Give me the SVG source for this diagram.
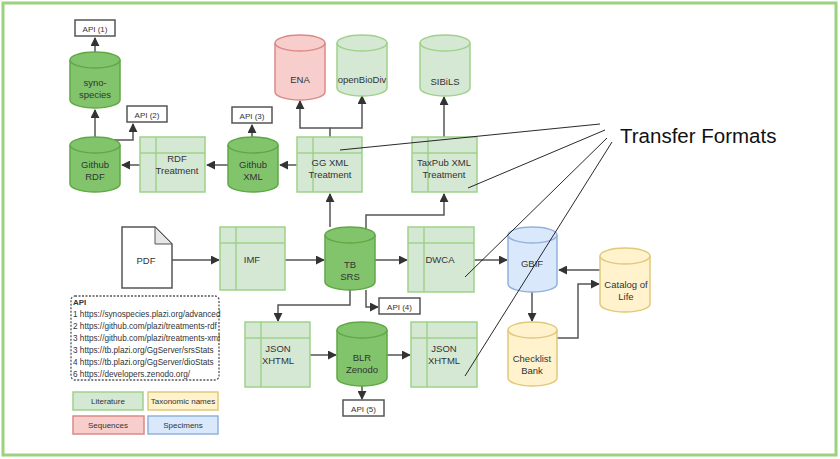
<svg xmlns="http://www.w3.org/2000/svg" width="840" height="459" viewBox="0 0 840 459">
<defs>
<marker id="ah" viewBox="0 0 10 10" refX="9" refY="5" markerWidth="6" markerHeight="6" orient="auto"><path d="M0,0 L10,5 L0,10 z" fill="#333"/></marker>
<style>
text{font-family:"Liberation Sans",Arial,sans-serif;font-size:9.5px;fill:#333;text-anchor:middle}
.dg{fill:#82c46c;stroke:#5fa845;stroke-width:1.5}
.lg{fill:#d5e8d4;stroke:#9fd18a;stroke-width:1.5}
.rd{fill:#f8cecc;stroke:#d98a88;stroke-width:1.5}
.bl{fill:#dae8fc;stroke:#93b1dc;stroke-width:1.5}
.yl{fill:#fff2cc;stroke:#e1c979;stroke-width:1.5}
.api{fill:#fff;stroke:#555;stroke-width:1.5}
.c path{fill:none;stroke:#555;stroke-width:1.5;marker-end:url(#ah)}
.tf{stroke:#111;stroke-width:0.9;fill:none}
</style>
</defs>
<rect x="3" y="3" width="833" height="452" fill="#fff" stroke="#9bd27f" stroke-width="3"/>

<g class="c" id="connectors">
<path d="M95,52 V38"/>
<path d="M95,137 V110"/>
<path d="M113,140 H133 V124"/>
<path d="M140,165 H122"/>
<path d="M228,165 H207"/>
<path d="M252,137 V125"/>
<path d="M297,165 H280"/>
<path d="M330,137 V128 H300 V101"/>
<path d="M330,128 H362 V96"/>
<path d="M444,137 V97"/>
<path d="M330,227 V194"/>
<path d="M366,230 V215 H444 V194"/>
<path d="M172,260 H219"/>
<path d="M285,260 H324"/>
<path d="M375,260 H407"/>
<path d="M474,260 H507"/>
<path d="M600,270 H559"/>
<path d="M532,292 V321"/>
<path d="M557,338 H578 V284 H599"/>
<path d="M366,290 V307 H378"/>
<path d="M350,290 V305 H278 V321"/>
<path d="M310,355 H336"/>
<path d="M387,355 H410"/>
<path d="M362,386 V399"/>
</g>

<g id="api1"><rect class="api" x="75" y="20" width="40" height="16"/><text x="95" y="31.5" style="font-size:8px">API (1)</text></g>
<g id="synospecies"><path class="dg" d="M70,60 A25,8 0 0 1 120,60 V100 A25,8 0 0 1 70,100 Z"/><path class="dg" d="M70,60 A25,8 0 0 0 120,60" fill="none"/><text x="95" y="86">syno-</text><text x="95" y="98">species</text></g>
<g id="api2"><rect class="api" x="127" y="106" width="40" height="16"/><text x="147" y="117.5" style="font-size:8px">API (2)</text></g>
<g id="githubrdf"><path class="dg" d="M70,145 A25,8 0 0 1 120,145 V184 A25,8 0 0 1 70,184 Z"/><path class="dg" d="M70,145 A25,8 0 0 0 120,145" fill="none"/><text x="95" y="168">Github</text><text x="95" y="180">RDF</text></g>
<g id="rdftreatment"><rect class="lg" x="140" y="137" width="65" height="55"/><path class="lg" d="M156,137 V192 M140,153 H205"/><text x="177" y="162">RDF</text><text x="177" y="174">Treatment</text></g>
<g id="api3"><rect class="api" x="232" y="107" width="40" height="16"/><text x="252" y="118.5" style="font-size:8px">API (3)</text></g>
<g id="githubxml"><path class="dg" d="M228,145 A25,8 0 0 1 278,145 V184 A25,8 0 0 1 228,184 Z"/><path class="dg" d="M228,145 A25,8 0 0 0 278,145" fill="none"/><text x="253" y="168">Github</text><text x="253" y="180">XML</text></g>
<g id="ggxml"><rect class="lg" x="297" y="137" width="65" height="55"/><path class="lg" d="M313,137 V192 M297,153 H362"/><text x="330" y="166">GG XML</text><text x="330" y="178">Treatment</text></g>
<g id="ena"><path class="rd" d="M275,43 A25,8 0 0 1 325,43 V92 A25,8 0 0 1 275,92 Z"/><path class="rd" d="M275,43 A25,8 0 0 0 325,43" fill="none"/><text x="300" y="83">ENA</text></g>
<g id="openbiodiv"><path class="lg" d="M337,43 A25,8 0 0 1 387,43 V88 A25,8 0 0 1 337,88 Z"/><path class="lg" d="M337,43 A25,8 0 0 0 387,43" fill="none"/><text x="362" y="83">openBioDiv</text></g>
<g id="sibils"><path class="lg" d="M420,43 A25,8 0 0 1 470,43 V88 A25,8 0 0 1 420,88 Z"/><path class="lg" d="M420,43 A25,8 0 0 0 470,43" fill="none"/><text x="445" y="85">SIBiLS</text></g>
<g id="taxpub"><rect class="lg" x="412" y="137" width="65" height="55"/><path class="lg" d="M428,137 V192 M412,153 H477"/><text x="444" y="166">TaxPub XML</text><text x="444" y="178">Treatment</text></g>
<g id="pdf"><path d="M122,227 H155 L172,244 V288 H122 Z" fill="#fff" stroke="#555" stroke-width="1.5"/><path d="M155,227 V244 H172 Z" fill="#e6e6e6" stroke="#555" stroke-width="1"/><text x="146" y="264">PDF</text></g>
<g id="imf"><rect class="lg" x="220" y="227" width="65" height="63"/><path class="lg" d="M236,227 V290 M220,243 H285"/><text x="252" y="263">IMF</text></g>
<g id="tbsrs"><path class="dg" d="M325,235 A25,8 0 0 1 375,235 V282 A25,8 0 0 1 325,282 Z"/><path class="dg" d="M325,235 A25,8 0 0 0 375,235" fill="none"/><text x="350" y="268">TB</text><text x="350" y="280">SRS</text></g>
<g id="dwca"><rect class="lg" x="408" y="227" width="66" height="65"/><path class="lg" d="M424,227 V292 M408,243 H474"/><text x="440" y="263">DWCA</text></g>
<g id="gbif"><path class="bl" d="M508,235 A24.5,8 0 0 1 557,235 V284 A24.5,8 0 0 1 508,284 Z"/><path class="bl" d="M508,235 A24.5,8 0 0 0 557,235" fill="none"/><text x="532" y="267">GBIF</text></g>
<g id="catalog"><path class="yl" d="M600,256 A25,8 0 0 1 650,256 V304 A25,8 0 0 1 600,304 Z"/><path class="yl" d="M600,256 A25,8 0 0 0 650,256" fill="none"/><text x="626" y="288">Catalog of</text><text x="626" y="300">Life</text></g>
<g id="checklist"><path class="yl" d="M508,330 A24.5,8 0 0 1 557,330 V378 A24.5,8 0 0 1 508,378 Z"/><path class="yl" d="M508,330 A24.5,8 0 0 0 557,330" fill="none"/><text x="532" y="362">Checklist</text><text x="532" y="374">Bank</text></g>
<g id="api4"><rect class="api" x="379" y="298" width="41" height="16"/><text x="399.5" y="309.5" style="font-size:8px">API (4)</text></g>
<g id="jsonleft"><rect class="lg" x="245" y="322" width="65" height="65"/><path class="lg" d="M261,322 V387 M245,338 H310"/><text x="278" y="352">JSON</text><text x="278" y="364">XHTML</text></g>
<g id="blr"><path class="dg" d="M337,330 A25,8 0 0 1 387,330 V378 A25,8 0 0 1 337,378 Z"/><path class="dg" d="M337,330 A25,8 0 0 0 387,330" fill="none"/><text x="362" y="361">BLR</text><text x="362" y="373">Zenodo</text></g>
<g id="jsonright"><rect class="lg" x="411" y="322" width="66" height="65"/><path class="lg" d="M427,322 V387 M411,338 H477"/><text x="444" y="352">JSON</text><text x="444" y="364">XHTML</text></g>
<g id="api5"><rect class="api" x="343" y="400" width="41" height="16"/><text x="363.5" y="411.5" style="font-size:8px">API (5)</text></g>

<g id="apilist">
<rect x="71" y="296" width="148" height="84" rx="4" fill="#fff" stroke="#555" stroke-width="1.3" stroke-dasharray="2,1.5"/>
<g style="font-size:8.3px">
<text x="73" y="305" style="text-anchor:start;font-weight:bold;font-size:8px">API</text>
<text x="73" y="317" style="text-anchor:start;font-size:8.2px">1 https://synospecies.plazi.org/advanced</text>
<text x="73" y="329" style="text-anchor:start;font-size:8.2px">2 https://github.com/plazi/treatments-rdf</text>
<text x="73" y="341" style="text-anchor:start;font-size:8.2px">3 https://github.com/plazi/treatments-xml</text>
<text x="73" y="353" style="text-anchor:start;font-size:8.2px">3 https://tb.plazi.org/GgServer/srsStats</text>
<text x="73" y="365" style="text-anchor:start;font-size:8.2px">4 https://tb.plazi.org/GgServer/dioStats</text>
<text x="73" y="377" style="text-anchor:start;font-size:8.2px">6 https://developers.zenodo.org/</text>
</g>
</g>

<g id="legend">
<rect class="lg" x="73" y="392" width="70" height="18"/><text x="108" y="404" style="font-size:8px">Literature</text>
<rect class="yl" x="148" y="392" width="70" height="18"/><text x="183" y="404" style="font-size:8px">Taxonomic names</text>
<rect class="rd" x="73" y="416" width="71" height="18"/><text x="108" y="428" style="font-size:8px">Sequences</text>
<rect class="bl" x="148" y="416" width="70" height="18"/><text x="183" y="428" style="font-size:8px">Specimens</text>
</g>

<g id="transfer">
<path class="tf" d="M600,124 L340,150 M605,130 L468,188 M607,138 L465,277 M612,142 L465,376"/>
<text x="620" y="143" style="font-size:20.5px;fill:#111;text-anchor:start">Transfer Formats</text>
</g>
</svg>
